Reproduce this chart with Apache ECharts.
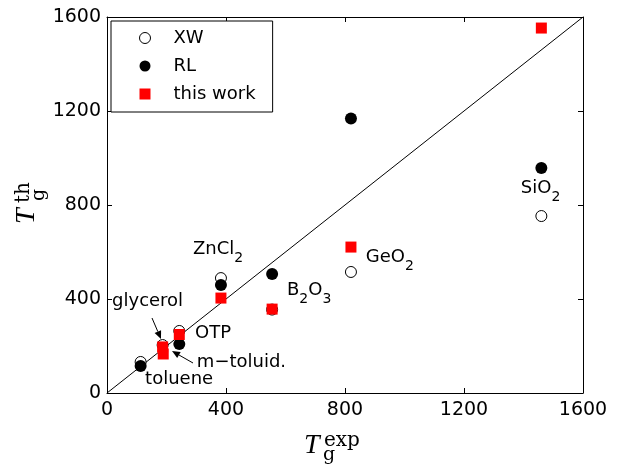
<!DOCTYPE html>
<html><head><meta charset="utf-8">
<script src="https://cdn.jsdelivr.net/npm/echarts@6/dist/echarts.min.js"></script>
<style>html,body{margin:0;padding:0;background:#fff}#c{width:618px;height:468px}</style>
</head><body><div id="c"></div>
<script>
// ---- data ----
const tickValues = [0, 400, 800, 1200, 1600];
const xwExp = [113, 187, 243, 383, 555, 820, 1460];
const xwTh  = [132, 204, 264, 489, 355, 515, 753];
const rlExp = [113, 243, 383, 555, 820, 1460];
const rlTh  = [115, 208, 460, 506, 1168, 957];
const twExp = [187, 189, 243, 383, 555, 820, 1460];
const twTh  = [196, 166, 249, 404, 357, 621, 1553];
const seriesNames = ['XW', 'RL', 'this work'];
const annotations = [
  {text: 'ZnCl{s|2}', x: 289, y: 613},
  {text: 'GeO{s|2}', x: 870, y: 579},
  {text: 'B{s|2}O{s|3}', x: 605, y: 438},
  {text: 'SiO{s|2}', x: 1391, y: 872},
  {text: 'glycerol', x: 17, y: 391},
  {text: 'OTP', x: 296, y: 255},
  {text: 'm\u2212toluid.', x: 302, y: 132},
  {text: 'toluene', x: 128, y: 60}
];

const zip = (a, b) => a.map((v, i) => [v, b[i]]);
const FONT = 'DejaVu Sans';
const chart = echarts.init(document.getElementById('c'), null, {renderer: 'canvas'});

const axisCommon = {
  type: 'value', min: tickValues[0], max: tickValues[tickValues.length - 1], interval: 400,
  splitLine: {show: false},
  axisLine: {show: true, onZero: false, lineStyle: {color: '#000', width: 1}},
  axisTick: {show: true, inside: true, length: 5, lineStyle: {color: '#000'}},
};
const labelStyle = {show: true, color: '#000', fontSize: 19, fontFamily: FONT, formatter: v => String(v)};

const option = {
  animation: false,
  backgroundColor: '#fff',
  grid: {left: 107, right: 35, top: 17, bottom: 75, containLabel: false},
  xAxis: [
    Object.assign({}, axisCommon, {position: 'bottom', axisLabel: Object.assign({margin: 8}, labelStyle)}),
    Object.assign({}, axisCommon, {position: 'top', axisLabel: {show: false}})
  ],
  yAxis: [
    Object.assign({}, axisCommon, {position: 'left', axisLabel: Object.assign({margin: 6}, labelStyle)}),
    Object.assign({}, axisCommon, {position: 'right', axisLabel: {show: false}})
  ],
  legend: {
    left: 111, top: 21, orient: 'vertical',
    data: [
      {name: seriesNames[0], icon: 'circle', itemStyle: {color: '#fff', borderColor: '#000', borderWidth: 1, opacity: 1}},
      {name: seriesNames[1], icon: 'circle', itemStyle: {color: '#000', borderWidth: 0, opacity: 1}},
      {name: seriesNames[2], icon: 'rect', itemStyle: {color: '#ff0000', borderWidth: 0, opacity: 1}}
    ],
    itemWidth: 11, itemHeight: 11, itemGap: 8,
    padding: [7, 17, 8, 28],
    borderColor: '#000', borderWidth: 1, backgroundColor: '#fff', borderRadius: 0,
    textStyle: {color: '#000', fontSize: 18, fontFamily: FONT, lineHeight: 20, padding: [0, 0, 0, 18]},
    selectedMode: false
  },
  series: [
    {type: 'line', data: [[tickValues[0], tickValues[0]], [tickValues[4], tickValues[4]]],
     symbol: 'none', lineStyle: {color: '#000', width: 1}, silent: true, z: 1},
    {name: seriesNames[0], type: 'scatter', data: zip(xwExp, xwTh), symbol: 'circle', symbolSize: 11,
     itemStyle: {color: '#fff', borderColor: '#000', borderWidth: 1, opacity: 1}, z: 2},
    {name: seriesNames[1], type: 'scatter', data: zip(rlExp, rlTh), symbol: 'circle', symbolSize: 12,
     itemStyle: {color: '#000', opacity: 1}, z: 3},
    {name: seriesNames[2], type: 'scatter', data: zip(twExp, twTh), symbol: 'rect', symbolSize: 11,
     itemStyle: {color: '#ff0000', opacity: 1}, z: 4}
  ]
};
chart.setOption(option);

const px = (x, y) => chart.convertToPixel({gridIndex: 0}, [x, y]);
const graphics = [];
annotations.forEach(a => {
  const p = px(a.x, a.y);
  graphics.push({type: 'text', x: p[0], y: p[1], z: 10,
    style: {text: a.text, fill: '#000', font: '18px "' + FONT + '"', verticalAlign: 'middle', align: 'left',
      rich: {s: {fontSize: 14, fontFamily: FONT, fill: '#000', padding: [18, 0, 0, 0]}}}});
});
function arrow(x1, y1, x2, y2) {
  const ang = Math.atan2(y2 - y1, x2 - x1), L = 8, W = 3.5;
  const bx = x2 - L * Math.cos(ang), by = y2 - L * Math.sin(ang);
  graphics.push({type: 'line', z: 10, shape: {x1: x1, y1: y1, x2: bx, y2: by}, style: {stroke: '#000', lineWidth: 1}});
  graphics.push({type: 'polygon', z: 10, shape: {points: [[x2, y2],
    [bx - W * Math.sin(ang), by + W * Math.cos(ang)], [bx + W * Math.sin(ang), by - W * Math.cos(ang)]]},
    style: {fill: '#000'}});
}
arrow(152, 318, 161, 339);
arrow(193, 363, 172, 351);

const serifT = '"Liberation Serif", serif';
const serifS = '"DejaVu Serif", serif';
function axisTitle(pos, rot, sup, supX, supY, subX, subY) {
  return {type: 'group', x: pos[0], y: pos[1], rotation: rot, z: 10, children: [
    {type: 'text', style: {text: 'T', x: 0, y: 0, font: 'italic 28px ' + serifT, fill: '#000', verticalAlign: 'middle'}},
    {type: 'text', style: {text: sup, x: supX, y: supY, font: '20px ' + serifS, fill: '#000', verticalAlign: 'middle'}},
    {type: 'text', style: {text: 'g', x: subX, y: subY, font: '19px ' + serifS, fill: '#000', verticalAlign: 'middle'}}
  ]};
}
graphics.push(axisTitle([304, 446], 0, 'exp', 20, -5, 19, 9));
graphics.push(axisTitle([27, 224], Math.PI / 2, 'th', 21, -3, 23, 12));
chart.setOption({graphic: graphics});
</script></body></html>
